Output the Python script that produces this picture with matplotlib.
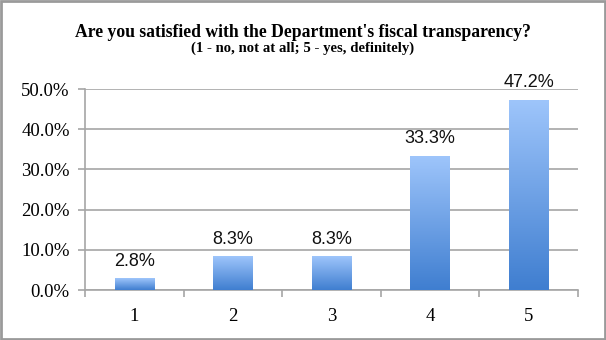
import matplotlib
matplotlib.use("Agg")
import matplotlib.pyplot as plt
from matplotlib.patches import Rectangle
import numpy as np

# survey answers on a 1-5 scale and share of respondents (%)
categories = ["1", "2", "3", "4", "5"]
shares = [2.8, 8.3, 8.3, 33.3, 47.2]
y_ticks = [0, 10, 20, 30, 40, 50]

grid_gray = "#a6a6a6"

fig = plt.figure(figsize=(6.06, 3.40), dpi=100)
ax = fig.add_axes([0.1403, 0.147, 0.8135, 0.591])

x = np.arange(len(categories))
bars = ax.bar(x, shares, width=0.4, color="none", zorder=3)

# vertical blue gradient fill for each bar
grad = np.linspace(0, 1, 256).reshape(-1, 1)
cmap = matplotlib.colors.LinearSegmentedColormap.from_list("bar", ["#3f7ed0", "#9ec5fb"])
for b in bars:
    x0, y0 = b.get_x(), b.get_y()
    ax.imshow(grad, cmap=cmap, origin="lower", aspect="auto",
              extent=[x0, x0 + b.get_width(), y0, y0 + b.get_height()], zorder=3)

for xi, v in zip(x, shares):
    ax.text(xi, v + 2.2, f"{v:.1f}%", ha="center", va="bottom",
            fontsize=13, family="Liberation Sans", color="#111111", zorder=4)

ax.set_xlim(-0.5, len(categories) - 0.5)
ax.set_ylim(0, 50)
ax.set_yticks(y_ticks)
ax.set_yticklabels([f"{t:.1f}%" for t in y_ticks], family="Liberation Serif", fontsize=13.5)
ax.yaxis.grid(True, color=grid_gray, linewidth=1.2, zorder=0)
ax.set_axisbelow(True)

# ticks between categories, labels centered under bars
ax.set_xticks(np.arange(len(categories) + 1) - 0.5)
ax.set_xticklabels([])
ax.set_xticks(x, minor=True)
ax.set_xticklabels(categories, minor=True, family="Liberation Serif", fontsize=13.5)
ax.tick_params(axis="x", which="major", length=5, color=grid_gray, width=1.2)
ax.tick_params(axis="x", which="minor", length=0, pad=13)
ax.tick_params(axis="y", length=5, color=grid_gray, width=1.2, pad=6)

for s in ["top", "right"]:
    ax.spines[s].set_visible(False)
for s in ["left", "bottom"]:
    ax.spines[s].set_color(grid_gray)
    ax.spines[s].set_linewidth(1.2)

fig.text(0.5, 0.905, "Are you satisfied with the Department's fiscal transparency?",
         ha="center", va="center", fontsize=12.7, fontweight="bold", family="Liberation Serif")
fig.text(0.5, 0.857, "(1 - no, not at all; 5 - yes, definitely)",
         ha="center", va="center", fontsize=10.6, fontweight="bold", family="Liberation Serif")

fig.add_artist(Rectangle((0.002, 0.003), 0.996, 0.994, transform=fig.transFigure,
                         fill=False, edgecolor="#9a9a9a", linewidth=2))

fig.savefig("out.png", dpi=100)
